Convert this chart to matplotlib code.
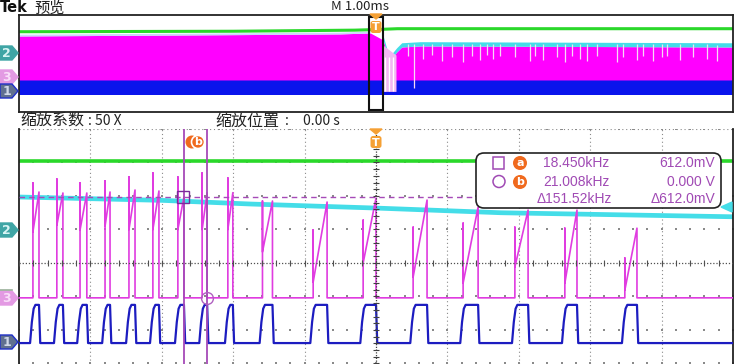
import numpy as np
import matplotlib.pyplot as plt
from matplotlib.patches import FancyBboxPatch, Polygon, Rectangle, Circle

plt.rcParams['font.family'] = ['Noto Sans CJK SC', 'DejaVu Sans']

# ---------- overview record (x: ms, y: divisions) ----------
ov_green_t = [-5.0, -2.0, -0.3, 0.0, 0.3, 5.0]
ov_green_v = [2.62, 2.66, 2.75, 2.80, 2.87, 2.87]
ov_mag_t = [-5.0, -2.46, -0.50, -0.08, 0.10, 0.15, 0.22, 0.29, 0.36, 0.62, 5.0]
ov_mag_top = [2.27, 2.36, 2.44, 2.52, 1.94, 0.90, 0.45, 0.95, 1.36, 1.45, 1.36]
ov_mag_bottom = -1.36
ov_blue_bottom = -2.60
ov_streak_t = [0.45, 0.53, 0.66, 0.78, 0.92, 1.06, 1.22, 1.34, 1.46, 1.55, 1.64,
               1.74, 1.95, 2.16, 2.23, 2.34, 2.54, 2.65, 2.75, 2.86, 2.96, 3.10,
               3.38, 3.46, 3.66, 3.74, 3.88, 4.01, 4.08, 4.26, 4.44, 4.64, 4.78]
ov_streak_v = [0.6, -2.0, 0.4, 0.7, 0.2, 0.5, 0.1, 0.6, 0.3, 0.7, 0.4,
               0.6, 0.5, 0.2, 0.6, 0.3, 0.5, 0.1, 0.6, 0.4, 0.2, 0.6,
               0.1, 0.5, 0.3, 0.6, 0.2, 0.5, 0.6, 0.3, 0.5, 0.4, 0.2]
ov_burst_t = [0.13, 0.18, 0.24]

# ---------- zoom window (x: us, y: divisions) ----------
pulse_on = [-96.1, -89.4, -82.9, -75.9, -69.2, -62.5, -55.5, -48.7, -41.5,
            -31.8, -17.6, -3.6, 10.4, 24.4, 38.9, 52.9, 69.7]
pulse_off = [-94.4, -87.7, -81.0, -74.5, -67.5, -60.8, -53.8, -47.3, -40.1,
             -29.0, -13.7, 0.0, 14.3, 28.6, 42.6, 56.3, 73.1]
spike_v = [2.39, 2.51, 2.39, 2.45, 2.57, 2.69, 2.57, 2.69, 2.54,
           1.85, 0.99, 1.28, 1.07, 1.19, 1.07, 1.04, 0.15]
ramp_start_v = [0.93, 1.13, 0.99, 1.10, 1.00, 1.00, 1.00, 1.00, 1.00,
                0.33, -0.57, 0.00, -0.42, -0.60, -0.12, -0.60, -0.81]
ramp_end_v = [2.12, 2.09, 2.09, 2.12, 2.18, 2.15, 1.97, 2.10, 2.10,
              1.85, 1.82, 1.94, 1.88, 1.67, 1.58, 1.58, 1.04]
mag_base = -1.04
blue_low, blue_high = -2.39, -1.25
green_level = 3.04
cyan_t = [-100, -60, -35, 0, 35, 100]
cyan_v = [1.97, 1.87, 1.76, 1.64, 1.50, 1.38]
cursor_t = [-53.8, -47.3]
cursor_a = (-54.1, 1.97)
cursor_b = (-47.3, -1.04)
cursor_a_end = 28.0

meas_rows = [("18.450kHz", "612.0mV"), ("21.008kHz", "0.000 V"), ("\u0394151.52kHz", "\u0394612.0mV")]

GREEN = '#2ad82a'
CYAN = '#44dde8'
MAG = '#ff00ff'
MAG_MAIN = '#e03ce0'
BLUE = '#0a14ec'
BLUE_MAIN = '#1c1cc0'
CURSOR = '#a64ab8'
ORANGE = '#f06a1e'
T_ORANGE = '#f5a034'

W, H = 745, 364
fig = plt.figure(figsize=(W / 100, H / 100), dpi=100)
fig.patch.set_facecolor('white')

# ---------- OVERVIEW PANEL ----------
ax_ov = fig.add_axes([19 / W, 1 - 112 / H, 714 / W, 97 / H])
ax_ov.set_xlim(-5, 5)
ax_ov.set_ylim(-4, 4)
ax_ov.set_xticks([])
ax_ov.set_yticks([])
for s in ax_ov.spines.values():
    s.set_linewidth(1.3)
    s.set_color('#222222')

ov_t = np.array(ov_mag_t)
ov_top = np.array(ov_mag_top)
ax_ov.fill_between(ov_t, ov_blue_bottom, ov_mag_bottom, color=BLUE, lw=0)
ax_ov.fill_between(ov_t, ov_mag_bottom, ov_top, color=MAG, lw=0)
right = ov_t >= 0.10
ax_ov.fill_between(ov_t[right], ov_top[right], ov_top[right] + 0.35, color=CYAN, lw=0)
left = ov_t <= -0.08
ax_ov.fill_between(ov_t[left], ov_top[left], ov_top[left] + 0.15, color='#c8d8f8', lw=0)
ax_ov.fill_between([0.10, 0.28], -2.3, [1.5, 0.7], color='#f2b8f2', lw=0)
ax_ov.vlines(ov_burst_t, -2.3, 0.5, color='white', lw=1.0)
ax_ov.vlines(ov_streak_t, ov_streak_v, np.interp(ov_streak_t, ov_t, ov_top) + 0.2,
             color='#f6d8f6', lw=0.9)
ax_ov.plot(ov_green_t, ov_green_v, color=GREEN, lw=2.2)
ax_ov.add_patch(Rectangle((-0.1, -3.84), 0.2, 7.68, fill=False, ec='#111111', lw=1.5, zorder=5))

# ---------- ZOOM PANEL ----------
ax = fig.add_axes([19 / W, 0, 714 / W, (H - 129) / H])
ax.set_xlim(-100, 100)
ax.set_ylim(-3.015, 4.0)
ax.set_xticks([])
ax.set_yticks([])
ax.spines['top'].set_visible(False)
ax.spines['bottom'].set_visible(False)
for side in ['left', 'right']:
    ax.spines[side].set_linewidth(1.3)
    ax.spines[side].set_color('#222222')

# graticule
grid_c = '#8a8a8a'
for gx in range(-80, 100, 20):
    if gx != 0:
        ax.axvline(gx, color=grid_c, lw=0.8, ls=(0, (1, 2.5)), zorder=1)
ax.axvline(0, color='#404040', lw=0.9, ls=(0, (1, 1.2)), zorder=6)
ax.axhline(0, color='#505050', lw=0.9, ls=(0, (1, 1.5)), zorder=6)
dot_t = np.arange(-100, 101, 4)
for gy in [-3, -2, -1, 1, 2, 3, 4]:
    ax.scatter(dot_t, np.full(dot_t.shape, gy), s=1.3, marker='s', color=grid_c, lw=0, zorder=1)
tick_v = np.arange(-3.0, 4.01, 0.2)
ax.hlines(tick_v, -0.8, 0.8, color='#404040', lw=0.8, zorder=6)
ax.vlines(dot_t, -0.09, 0.09, color='#505050', lw=0.8, zorder=6)
ax.plot([-100, 100], [4.0, 4.0], color=grid_c, lw=0.8, ls=(0, (1, 2.5)), zorder=1)

# traces
ax.plot([-100, 100], [green_level, green_level], color=GREEN, lw=2.6, zorder=2)
ax.plot(cyan_t, cyan_v, color=CYAN, lw=3.4, zorder=2, solid_capstyle='butt')

mt, mv = [-100.0], [mag_base]
bt, bv = [-100.0], [blue_low]
d = blue_high - blue_low
for on, off, sp, rs, re in zip(pulse_on, pulse_off, spike_v, ramp_start_v, ramp_end_v):
    mt += [on, on, on, off, off]
    mv += [mag_base, sp, rs, re, mag_base]
    bt += [on - 0.8, on - 0.3, on + 0.2, on + 0.7, off, off + 0.35]
    bv += [blue_low, blue_low + 0.55 * d, blue_high - 0.1 * d, blue_high, blue_high, blue_low]
mt.append(100.0)
mv.append(mag_base)
bt.append(100.0)
bv.append(blue_low)
ax.plot(mt, mv, color=MAG_MAIN, lw=1.2, zorder=3)
ax.plot(bt, bv, color=BLUE_MAIN, lw=1.6, zorder=3)

# cursors
for ct in cursor_t:
    ax.axvline(ct, color=CURSOR, lw=1.3, zorder=4)
ax.plot([-100, cursor_a_end], [cursor_a[1], cursor_a[1]], color=CURSOR, lw=1.0,
        ls=(0, (4, 3)), zorder=4)
ax.plot(*cursor_a, marker='s', ms=9, mfc='none', mec='#7a2a9a', mew=1.0, zorder=5)
ax.plot(*cursor_b, marker='o', ms=8.5, mfc='none', mec='#b060c0', mew=1.0, zorder=5)

# ---------- SCREEN OVERLAY (pixel coords) ----------
ui = fig.add_axes([0, 0, 1, 1], facecolor='none')
ui.set_xlim(0, W)
ui.set_ylim(H, 0)
ui.axis('off')

ui.text(0, 8, 'Tek', fontsize=10.5, fontweight='bold', family='DejaVu Sans',
        va='center', ha='left', color='#111111')
ui.text(34, 8, '预览', fontsize=11, va='center', ha='left', color='#222222')
ui.text(360, 6, 'M 1.00ms', fontsize=9.5, va='center', ha='center', color='#222222')
ui.text(20, 121, '缩放系数', fontsize=11.5, va='center', ha='left', color='#222222')
ui.text(88, 121, ': 50 X', fontsize=10, va='center', ha='left', color='#222222')
ui.text(215, 121, '缩放位置', fontsize=11.5, va='center', ha='left', color='#222222')
ui.text(285, 121, ':', fontsize=10, va='center', ha='left', color='#222222')
ui.text(303, 121, '0.00 s', fontsize=10, va='center', ha='left', color='#222222')


def trig_marker(cx, y0):
    ui.add_patch(Polygon([(cx - 6, y0), (cx + 6, y0), (cx, y0 + 5)], color=T_ORANGE, zorder=8))
    ui.add_patch(FancyBboxPatch((cx - 5.5, y0 + 7), 11, 12,
                                boxstyle='round,pad=0,rounding_size=2.5',
                                fc=T_ORANGE, ec='none', zorder=8))
    ui.text(cx, y0 + 13.5, 'T', color='white', fontsize=8, fontweight='bold',
            family='DejaVu Sans', ha='center', va='center', zorder=9)


trig_marker(376, 14)
trig_marker(376, 129)


def ch_marker(y, fc, ec, label, tc):
    ui.add_patch(Polygon([(0, y - 7), (12, y - 7), (18, y), (12, y + 7), (0, y + 7)],
                         closed=True, fc=fc, ec=ec, lw=1.0, zorder=8))
    ui.text(6.5, y + 0.5, label, fontsize=9, fontweight='bold', family='DejaVu Sans',
            color=tc, ha='center', va='center', zorder=9)


ch_marker(53, '#3fa5a5', '#3fa5a5', '2', '#d8f4f4')
ch_marker(77, '#e39ae3', '#e39ae3', '3', '#f9ddf9')
ch_marker(91, '#607090', '#2030c8', '1', '#d0d8e8')
ch_marker(230, '#3fa5a5', '#3fa5a5', '2', '#d8f4f4')
ch_marker(298, '#e39ae3', '#e39ae3', '3', '#f9ddf9')
ch_marker(342, '#607090', '#2030c8', '1', '#d0d8e8')
ui.plot([0, 12], [290, 290], color='#9ab09a', lw=1.2, zorder=8)
ui.add_patch(Polygon([(721, 207), (732, 202), (732, 212)], color=CYAN, zorder=8))

# "b" cursor tag
ui.add_patch(Circle((192, 142), 6.5, fc=ORANGE, ec='none', zorder=8))
ui.add_patch(Circle((198, 142), 6.5, fc=ORANGE, ec='white', lw=1.2, zorder=9))
ui.text(198, 142, 'b', color='white', fontsize=8, fontweight='bold', family='DejaVu Sans',
        ha='center', va='center', zorder=10)

# measurement readout
ui.add_patch(FancyBboxPatch((476, 153), 245, 55, boxstyle='round,pad=0,rounding_size=8',
                            fc='white', ec='#222222', lw=1.2, zorder=8))
TXT = '#a04ab4'
row_y = [163, 182, 199]
ui.add_patch(Rectangle((493, 157), 11, 12, fill=False, ec=TXT, lw=1.1, zorder=9))
ui.add_patch(Circle((499, 181.5), 6, fill=False, ec=TXT, lw=1.1, zorder=9))
for lab, yy in zip(['a', 'b'], row_y[:2]):
    ui.add_patch(Circle((520, yy), 7, fc=ORANGE, ec='none', zorder=9))
    ui.text(520, yy, lab, color='white', fontsize=8, fontweight='bold', family='DejaVu Sans',
            ha='center', va='center', zorder=10)
for (f_txt, v_txt), yy in zip(meas_rows, row_y):
    x0 = 537 if f_txt.startswith('\u0394') else 543
    ui.text(x0, yy, f_txt, color=TXT, fontsize=10, family='Liberation Sans',
            ha='left', va='center', zorder=10)
    ui.text(715, yy, v_txt, color=TXT, fontsize=10, family='Liberation Sans',
            ha='right', va='center', zorder=10)

fig.savefig('out.png', dpi=100)
